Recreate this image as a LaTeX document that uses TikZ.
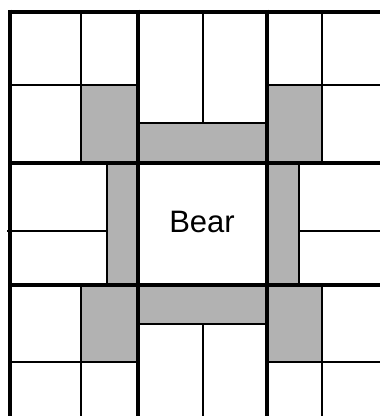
\documentclass[tikz,border=0pt]{standalone}
\usepackage{fontspec}
\setmainfont{Liberation Sans}

\begin{document}
\begin{tikzpicture}[x=1pt, y=-1pt,
  shade/.style={fill=black!30, draw=none},
  minor/.style={line width=2pt},
  major/.style={line width=4pt}]
\useasboundingbox (0,0) rectangle (380,416);
\clip (0,0) rectangle (380,416);
% gray pieces round the centre block
\fill[shade] (81,85)   rectangle (138,163);
\fill[shade] (138,123) rectangle (267,163);
\fill[shade] (267,85)  rectangle (322,163);
\fill[shade] (107,163) rectangle (138,285);
\fill[shade] (267,163) rectangle (299,285);
\fill[shade] (81,285)  rectangle (138,362);
\fill[shade] (138,285) rectangle (267,324);
\fill[shade] (267,285) rectangle (322,362);
% thin lines
\draw[minor] (81,11) -- (81,163) (81,285) -- (81,416);
\draw[minor] (322,11) -- (322,163) (322,285) -- (322,416);
\draw[minor] (203,11) -- (203,123) (203,324) -- (203,416);
\draw[minor] (107,163) -- (107,285);
\draw[minor] (299,163) -- (299,285);
\draw[minor] (10,85) -- (138,85) (267,85) -- (380,85);
\draw[minor] (10,362) -- (138,362) (267,362) -- (380,362);
\draw[minor] (138,123) -- (267,123) (138,324) -- (267,324);
\draw[minor] (7,231) -- (107,231) (299,231) -- (380,231);
% thick lines
\foreach \x in {10,138,267}
  \draw[major] (\x,9.5) -- (\x,416);
\foreach \y in {11.5,163,285}
  \draw[major] (8,\y) -- (380,\y);
\node[anchor=base, inner sep=0pt] (bear) at (202,232) {\fontsize{31}{36}\selectfont Bear};
\end{tikzpicture}
\end{document}
